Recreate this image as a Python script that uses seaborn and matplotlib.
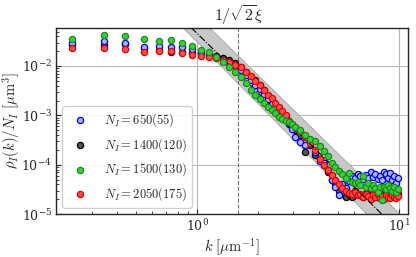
import numpy as np
import pandas as pd
import matplotlib
matplotlib.use("Agg")
import matplotlib.pyplot as plt
import matplotlib.transforms as mtransforms
import seaborn as sns

# wavenumbers shared by all runs [1/um]
k = [0.24, 0.345, 0.44, 0.545, 0.645, 0.74, 0.84, 0.94,
     1.04, 1.14, 1.24, 1.34, 1.44, 1.54, 1.64, 1.74, 1.84, 1.94,
     2.04, 2.14, 2.24, 2.34, 2.44, 2.54, 2.64, 2.74, 2.84, 2.94,
     3.04, 3.24, 3.44, 3.64, 3.84,
     4.04, 4.24, 4.44, 4.64, 4.84, 5.04, 5.24, 5.44, 5.64, 5.84,
     6.04, 6.24, 6.44, 6.64, 6.84, 7.04, 7.24, 7.44, 7.64, 7.84,
     8.04, 8.24, 8.44, 8.64, 8.84, 9.04, 9.24, 9.44, 9.64, 9.84]

rho_650 = [2.9e-2, 3.2e-2, 3.0e-2, 2.4e-2, 2.6e-2, 2.4e-2, 2.4e-2, 2.2e-2,
           1.9e-2, 1.7e-2, 1.5e-2, 1.3e-2, 1.15e-2, 9.8e-3, 8.2e-3, 6.5e-3, 5.2e-3, 4.1e-3,
           3.4e-3, 2.7e-3, 2.1e-3, 1.7e-3, 1.4e-3, 1.2e-3, 1.0e-3, 8.5e-4, 7.0e-4, 5.2e-4,
           3.6e-4, 2.9e-4, 2.5e-4, 3.0e-4, 1.8e-4,
           1.2e-4, 1.1e-4, 8.0e-5, 5.0e-5, 3.5e-5, 2.4e-5, 4.0e-5, 3.4e-5, 4.7e-5, 6.0e-5,
           5.5e-5, 6.5e-5, 5.8e-5, 5.2e-5, 6.2e-5, 5.5e-5, 7.0e-5, 5.6e-5, 6.5e-5, 5.2e-5,
           6.0e-5, 4.8e-5, 7.2e-5, 6.4e-5, 5.5e-5, 6.8e-5, 5.0e-5, 6.0e-5, 4.3e-5, 5.5e-5]

rho_1400 = [2.7e-2, 2.7e-2, 2.8e-2, 2.3e-2, 2.1e-2, 1.9e-2, 1.9e-2, 1.8e-2,
            1.8e-2, 1.7e-2, 1.6e-2, 1.45e-2, 1.32e-2, 1.15e-2, 9.5e-3, 7.5e-3, 6.0e-3, 5.2e-3,
            4.2e-3, 3.3e-3, 2.5e-3, 1.9e-3, 1.5e-3, 1.3e-3, 1.1e-3, 9.0e-4, 6.8e-4, 5.8e-4,
            5.0e-4, 4.0e-4, 1.8e-4, 2.5e-4, 1.6e-4,
            1.3e-4, 1.0e-4, 7.0e-5, 5.0e-5, 4.0e-5, 3.0e-5, 2.5e-5, 2.2e-5, 2.6e-5, 2.2e-5,
            2.9e-5, 2.6e-5, 2.4e-5, 2.2e-5, 2.7e-5, 2.3e-5, 2.5e-5, 2.8e-5, 2.4e-5, 2.2e-5,
            2.6e-5, 2.3e-5, 2.7e-5, 2.5e-5, 2.2e-5, 2.6e-5, 2.4e-5, 2.8e-5, 2.3e-5, 2.5e-5]

rho_1500 = [3.5e-2, 4.3e-2, 4.1e-2, 3.6e-2, 3.2e-2, 3.3e-2, 2.9e-2, 2.6e-2,
            2.1e-2, 1.9e-2, 1.55e-2, 1.2e-2, 9.7e-3, 7.7e-3, 6.0e-3, 4.5e-3, 3.2e-3, 2.6e-3,
            2.1e-3, 1.8e-3, 1.5e-3, 1.3e-3, 1.1e-3, 9.4e-4, 8.4e-4, 7.8e-4, 7.2e-4, 6.6e-4,
            5.8e-4, 5.0e-4, 4.0e-4, 3.4e-4, 3.0e-4,
            2.4e-4, 1.9e-4, 1.5e-4, 1.1e-4, 9.0e-5, 7.5e-5, 6.5e-5, 5.5e-5, 6.8e-5, 4.5e-5,
            4.2e-5, 4.5e-5, 3.8e-5, 6.0e-5, 3.6e-5, 4.3e-5, 3.4e-5, 3.8e-5, 3.3e-5, 2.8e-5,
            3.5e-5, 1.9e-5, 3.6e-5, 3.2e-5, 3.9e-5, 3.4e-5, 3.0e-5, 3.5e-5, 2.8e-5, 3.2e-5]

rho_2050 = [2.3e-2, 2.3e-2, 2.2e-2, 1.9e-2, 2.0e-2, 2.0e-2, 1.8e-2, 1.7e-2,
            1.6e-2, 1.5e-2, 1.45e-2, 1.3e-2, 1.2e-2, 1.05e-2, 9.5e-3, 7.7e-3, 6.2e-3, 5.0e-3,
            4.1e-3, 3.3e-3, 2.6e-3, 2.2e-3, 1.8e-3, 1.5e-3, 1.2e-3, 1.0e-3, 7.8e-4, 6.8e-4,
            5.8e-4, 4.6e-4, 3.6e-4, 2.8e-4, 2.0e-4,
            1.3e-4, 1.0e-4, 8.0e-5, 6.2e-5, 5.0e-5, 4.0e-5, 3.4e-5, 3.0e-5, 2.7e-5, 2.5e-5,
            2.8e-5, 2.4e-5, 2.6e-5, 2.2e-5, 2.5e-5, 2.3e-5, 2.0e-5, 2.4e-5, 2.2e-5, 2.5e-5,
            2.1e-5, 2.3e-5, 2.0e-5, 2.4e-5, 2.2e-5, 2.1e-5, 2.4e-5, 2.2e-5, 2.1e-5, 2.3e-5]

labels = [r"$N_I = 650(55)$", r"$N_I = 1400(120)$",
          r"$N_I = 1500(130)$", r"$N_I = 2050(175)$"]
face_colors = ["#a9b6ff", "#555555", "#3ccc3c", "#ff5050"]
edge_colors = ["#0000ee", "#000000", "#1a8c1a", "#e00000"]
draw_order = [2, 1, 4, 3]

# k^-4 tail with uncertainty band
k_xi = 1.6            # 1/(sqrt(2) xi)
porod_amp, porod_exp = 0.0457, -4.0
band_lo_amp, band_lo_exp = 0.0306, -4.15
band_hi_amp, band_hi_exp = 0.105, -4.0
fit_kmin, fit_kmax = 0.7, 10.0

series = [rho_650, rho_1400, rho_1500, rho_2050]
df = pd.concat([pd.DataFrame({"k": k, "rho": r, "run": lab})
                for r, lab in zip(series, labels)], ignore_index=True)

sns.set_style("ticks")
plt.rcParams["font.family"] = ["DejaVu Serif"]
plt.rcParams["mathtext.fontset"] = "cm"

fig, ax = plt.subplots(figsize=(4.16, 2.57), dpi=100)
fig.subplots_adjust(left=0.135, right=0.981, bottom=0.167, top=0.891)
ax.set_xscale("log")
ax.set_yscale("log")

kfit = np.geomspace(fit_kmin, fit_kmax, 200)
ax.fill_between(kfit, band_lo_amp * kfit ** band_lo_exp, band_hi_amp * kfit ** band_hi_exp,
                facecolor="#c8c8c8", edgecolor="#9a9a9a", lw=0.5, zorder=1)
sns.lineplot(x=kfit, y=porod_amp * kfit ** porod_exp, color="k", ls="-.", lw=0.8,
             ax=ax, zorder=6)

for lab, fc, ec, z in zip(labels, face_colors, edge_colors, draw_order):
    sub = df[df["run"] == lab]
    sns.scatterplot(data=sub, x="k", y="rho", color=fc, edgecolor=ec, linewidth=0.9,
                    s=20, label=lab, ax=ax, zorder=2 + z)

ax.axvline(k_xi, color="0.45", ls="--", lw=0.8, zorder=1.5)
trans = mtransforms.blended_transform_factory(ax.transData, ax.transAxes)
ax.text(k_xi, 1.005, r"$1/\sqrt{2}\xi$", transform=trans, ha="center", va="bottom",
        fontsize=11.5)

ax.set_xlim(0.2, 11.1)
ax.set_ylim(1e-5, 0.059)
ax.grid(True, which="major", color="#b8b8b8", lw=0.8)
ax.set_axisbelow(True)
ax.tick_params(which="both", direction="in", labelsize=9, pad=3)
for sp in ax.spines.values():
    sp.set_linewidth(1.0)

ax.set_xlabel(r"$k\ [\mu\mathrm{m}^{-1}]$", fontsize=10.5)
ax.set_ylabel(r"$\rho_I(k)/N_I\ [\mu\mathrm{m}^3]$", fontsize=10.5)
ax.xaxis.set_label_coords(0.5, -0.12)
ax.yaxis.set_label_coords(-0.097, 0.5)

h, l = ax.get_legend_handles_labels()
order = [l.index(lab) for lab in labels]
ax.legend([h[i] for i in order], [l[i] for i in order], loc="lower left",
          fontsize=9, frameon=True, edgecolor="0.8", framealpha=0.9,
          borderaxespad=0.5, labelspacing=0.55, handletextpad=0.9)

fig.savefig("out.png", dpi=100)
